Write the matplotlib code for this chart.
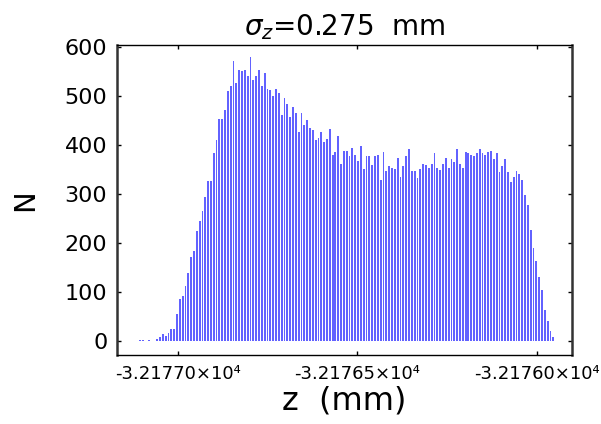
import numpy as np
import matplotlib
matplotlib.use('Agg')
import matplotlib.pyplot as plt
from matplotlib.ticker import FixedLocator, FuncFormatter

plt.rcParams['font.family'] = 'DejaVu Sans'

# histogram of particle z positions, counts per bin
z_first = -32177.1045   # centre of first bin (mm)
z_last = -32175.954     # centre of last bin (mm)
counts = [1, 1, 0, 1, 0, 0, 3, 7, 13, 10, 16, 24, 24, 54,
          86, 92, 112, 138, 171, 183, 224, 245, 265, 294,
          326, 326, 383, 410, 453, 453, 471, 510, 520, 571,
          527, 553, 550, 553, 541, 580, 533, 541, 553, 520,
          547, 515, 512, 499, 514, 505, 461, 495, 483, 456,
          478, 465, 427, 465, 441, 451, 435, 430, 409, 415,
          427, 406, 412, 433, 380, 386, 418, 362, 388, 388,
          377, 394, 380, 368, 397, 350, 377, 377, 359, 377,
          380, 329, 386, 347, 356, 352, 350, 373, 335, 356,
          377, 391, 347, 347, 333, 350, 362,
          359, 352, 362, 383, 352, 348, 362, 373, 352, 371,
          365, 391, 362, 352, 386, 383, 380, 377, 383, 391,
          383, 380, 386, 388, 371, 383, 344,
          357, 371, 344, 324, 335, 347, 341, 329, 297, 277,
          227, 189, 162, 131, 103, 63, 41, 21, 7]
x_ticks = [-32177.0, -32176.5, -32176.0]
y_ticks = [0, 100, 200, 300, 400, 500, 600]
title = r'$\sigma_z$=0.275  mm'

z = np.linspace(z_first, z_last, len(counts))
bin_w = z[1] - z[0]

fig = plt.figure(figsize=(6.01, 4.24), dpi=100)
ax = fig.add_axes([0.1947, 0.1627, 0.7570, 0.7312])

ax.bar(z, counts, width=bin_w * 0.65, color='#6262ff', linewidth=0)

ax.set_xlim(-32177.169, -32175.902)
ax.set_ylim(-29, 604)

ax.xaxis.set_major_locator(FixedLocator(x_ticks))
ax.xaxis.set_major_formatter(FuncFormatter(lambda v, p: '-%.5f×10⁴' % (abs(v) / 1e4)))
ax.yaxis.set_major_locator(FixedLocator(y_ticks))
ax.tick_params(direction='in', length=3, width=1, top=True, right=True, colors='black')
ax.tick_params(axis='x', labelsize=13, pad=7)
ax.tick_params(axis='y', labelsize=16, pad=7)

for s in ['left', 'right']:
    ax.spines[s].set_linewidth(1.8)
    ax.spines[s].set_color('#333333')
for s in ['top', 'bottom']:
    ax.spines[s].set_linewidth(1.0)

ax.set_title(title, fontsize=20, pad=7)
ax.set_xlabel('z  (mm)', fontsize=23, labelpad=2)
ax.set_ylabel('N', fontsize=21)
ax.yaxis.set_label_coords(-0.172, 0.5)

fig.savefig('out.png', dpi=100)
